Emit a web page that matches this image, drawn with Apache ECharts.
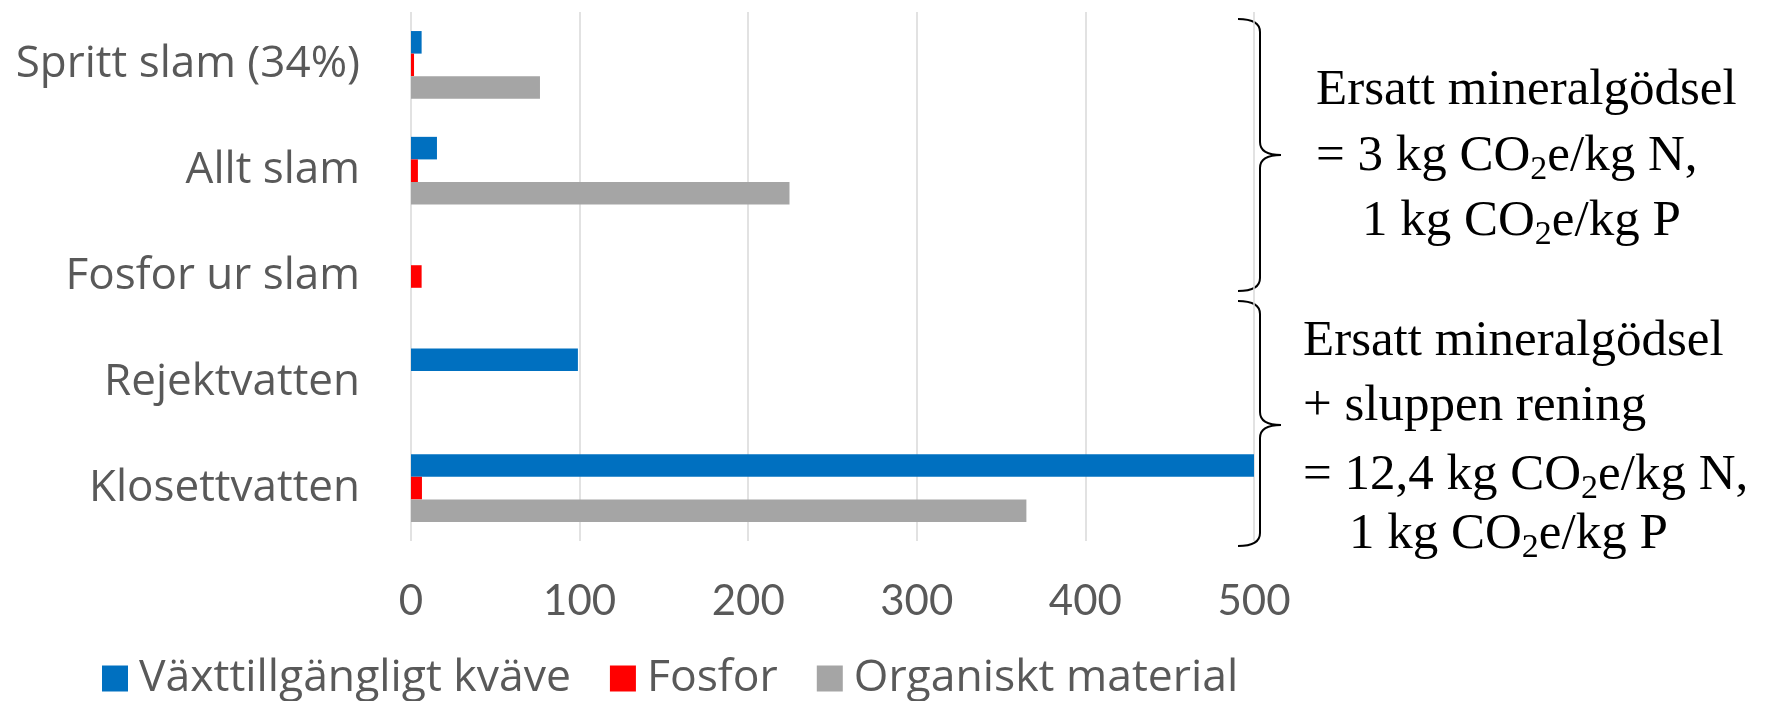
<!DOCTYPE html>
<html>
<head>
<meta charset="utf-8">
<script src="https://cdn.jsdelivr.net/npm/echarts@6/dist/echarts.min.js"></script>
<style>
html,body{margin:0;padding:0;background:#fff;}
#chart{width:1774px;height:701px;}
</style>
</head>
<body>
<div id="chart"></div>
<script>
const categories = ['Spritt slam (34%)', 'Allt slam', 'Fosfor ur slam', 'Rejektvatten', 'Klosettvatten'];
const seriesNames = ['Växttillgängligt kväve', 'Fosfor', 'Organiskt material'];
const kvave = [6.3, 15.4, 0, 99, 500];
const fosfor = [1.8, 4.1, 6.3, 0, 6.5];
const organiskt = [76.5, 224.5, 0, 0, 365];
const xTicks = [0, 100, 200, 300, 400, 500];

const colors = ['#0070c0', '#ff0000', '#a5a5a5'];
const sansFont = 'Open Sans';
const tickFont = 'Lato';
const serifFont = 'Liberation Serif';
const labelColor = '#595959';

const chart = echarts.init(document.getElementById('chart'));

const richSub = {
  s: { fontSize: 34, fontFamily: serifFont, fill: '#000', color: '#000', verticalAlign: 'bottom', lineHeight: 24 }
};
function noteText(text, x, y) {
  return {
    type: 'text',
    x: x, y: y,
    silent: true,
    style: {
      text: text,
      fill: '#000',
      fontSize: 51,
      fontFamily: serifFont,
      lineHeight: 60,
      verticalAlign: 'middle',
      align: 'left',
      rich: richSub
    }
  };
}
function brace(topY, tipY, botY) {
  const lx = 1238, vx = 1260, tx = 1281, r = 13;
  const st = { fill: 'none', stroke: '#000', lineWidth: 2 };
  return {
    type: 'group',
    silent: true,
    children: [
      { type: 'bezierCurve', shape: { x1: lx, y1: topY, cpx1: vx, cpy1: topY, x2: vx, y2: topY + r }, style: st },
      { type: 'line', shape: { x1: vx, y1: topY + r, x2: vx, y2: tipY - r }, style: st },
      { type: 'bezierCurve', shape: { x1: vx, y1: tipY - r, cpx1: vx, cpy1: tipY, x2: tx, y2: tipY }, style: st },
      { type: 'bezierCurve', shape: { x1: tx, y1: tipY, cpx1: vx, cpy1: tipY, x2: vx, y2: tipY + r }, style: st },
      { type: 'line', shape: { x1: vx, y1: tipY + r, x2: vx, y2: botY - r }, style: st },
      { type: 'bezierCurve', shape: { x1: vx, y1: botY - r, cpx1: vx, cpy1: botY, x2: lx, y2: botY }, style: st }
    ]
  };
}

const option = {
  animation: false,
  backgroundColor: '#fff',
  color: colors,
  grid: { left: 411, right: 520, top: 12, bottom: 160, containLabel: false },
  legend: {
    data: seriesNames,
    left: 97,
    top: 651,
    icon: 'rect',
    itemWidth: 26,
    itemHeight: 26,
    itemGap: 39,
    textStyle: { fontFamily: sansFont, fontSize: 44.5, color: labelColor, padding: [0, 0, 0, 6] }
  },
  xAxis: {
    type: 'value',
    min: xTicks[0],
    max: xTicks[xTicks.length - 1],
    interval: xTicks[1] - xTicks[0],
    axisLine: { show: false },
    axisTick: { show: false },
    splitLine: { show: true, lineStyle: { color: '#d9d9d9', width: 1.5 } },
    axisLabel: { fontFamily: tickFont, fontSize: 42, color: labelColor, margin: 39 }
  },
  yAxis: {
    type: 'category',
    data: categories,
    inverse: true,
    axisLine: { show: false },
    axisTick: { show: false },
    axisLabel: { fontFamily: sansFont, fontSize: 44, color: labelColor, margin: 51 }
  },
  series: [
    { name: seriesNames[0], type: 'bar', data: kvave, barGap: '0%', barCategoryGap: '36%' },
    { name: seriesNames[1], type: 'bar', data: fosfor, barGap: '0%', barCategoryGap: '36%' },
    { name: seriesNames[2], type: 'bar', data: organiskt, barGap: '0%', barCategoryGap: '36%' }
  ],
  graphic: [
    brace(19, 155, 291),
    brace(301, 425, 546),
    noteText('Ersatt mineralgödsel', 1316, 91),
    noteText('= 3 kg CO{s|2}e/kg N,', 1316, 157),
    noteText('1 kg CO{s|2}e/kg P', 1362, 222),
    noteText('Ersatt mineralgödsel', 1303, 342),
    noteText('+ sluppen rening', 1303, 407),
    noteText('= 12,4 kg CO{s|2}e/kg N,', 1303, 476),
    noteText('1 kg CO{s|2}e/kg P', 1349, 535)
  ]
};
chart.setOption(option);
</script>
</body>
</html>
